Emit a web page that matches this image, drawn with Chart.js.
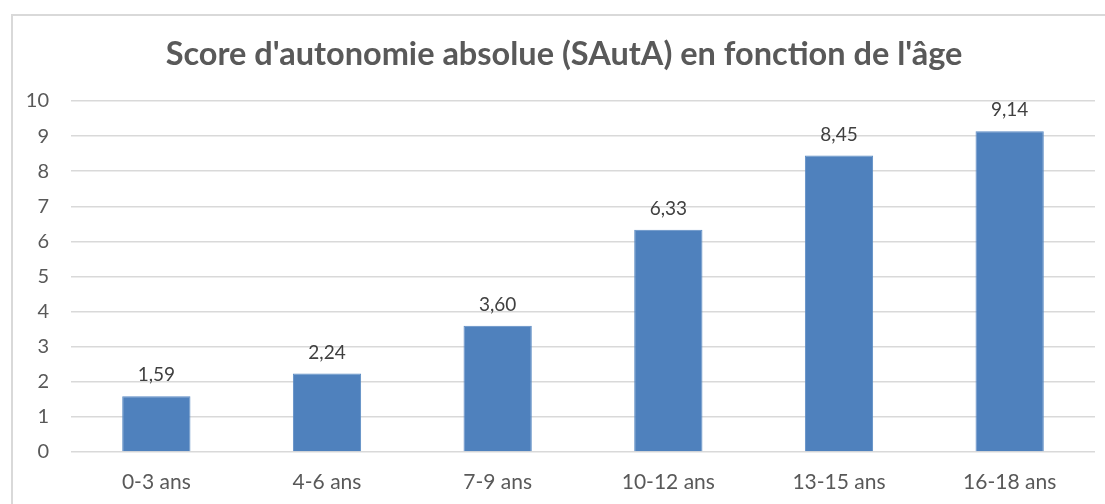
<!DOCTYPE html>
<html>
<head>
<meta charset="utf-8">
<script src="https://cdn.jsdelivr.net/npm/chart.js@4/dist/chart.umd.min.js"></script>
<style>
    body { margin: 0; background: #fff; }
    #wrap { position: relative; width: 1105px; height: 504px; overflow: hidden; }
    #frame { position: absolute; left: 11px; top: 14px; width: 1120px; height: 520px; border: 2px solid #d9d9d9; box-sizing: border-box; }
    #chart { position: absolute; left: 0; top: 0; }
</style>
</head>
<body>
<div id="wrap">
    <div id="frame"></div>
    <canvas id="chart" width="1105" height="504"></canvas>
</div>
<script>
const chartTitle = "Score d'autonomie absolue (SAutA) en fonction de l'âge";
const ageGroups = ['0-3 ans', '4-6 ans', '7-9 ans', '10-12 ans', '13-15 ans', '16-18 ans'];
const sautaScores = [1.59, 2.24, 3.60, 6.33, 8.45, 9.14];
const yTicks = [0, 1, 2, 3, 4, 5, 6, 7, 8, 9, 10];

const FONT = 'Lato, "Open Sans", sans-serif';

// title is drawn by hand, the excel one is not centred on the plot
const titlePlugin = {
    id: 'titlePlugin',
    beforeDraw(chart) {
        const ctx = chart.ctx;
        ctx.save();
        ctx.font = 'bold 32.5px ' + FONT;
        ctx.fillStyle = '#595959';
        ctx.textAlign = 'center';
        ctx.textBaseline = 'middle';
        ctx.fillText(chartTitle, 564, 55);
        ctx.restore();
    }
};

// draws the value above each bar, french decimal comma
const valueLabels = {
    id: 'valueLabels',
    afterDatasetsDraw(chart) {
        const ctx = chart.ctx;
        const meta = chart.getDatasetMeta(0);
        ctx.save();
        ctx.font = '19px ' + FONT;
        ctx.fillStyle = '#404040';
        ctx.textAlign = 'center';
        ctx.textBaseline = 'middle';
        meta.data.forEach((bar, i) => {
            const txt = sautaScores[i].toFixed(2).replace('.', ',');
            ctx.fillText(txt, bar.x, bar.y - 21);
        });
        ctx.restore();
    }
};

const ctx = document.getElementById('chart').getContext('2d');
const chart = new Chart(ctx, {
    type: 'bar',
    data: {
        labels: ageGroups,
        datasets: [{
            data: sautaScores,
            backgroundColor: '#4F81BD',
            borderColor: '#5B8BC4',
            borderWidth: 1,
            barPercentage: 0.4,
            categoryPercentage: 1
        }]
    },
    options: {
        responsive: false,
        animation: false,
        layout: {
            padding: { top: 101, left: 11, right: 10, bottom: 6 }
        },
        plugins: {
            legend: { display: false },
            tooltip: { enabled: false },
            title: { display: false }
        },
        scales: {
            x: {
                afterFit(scale) { scale.height = 46; },
                grid: { display: false, drawTicks: false },
                border: { display: false },
                ticks: {
                    color: '#595959',
                    font: { family: FONT, size: 21 },
                    padding: 18
                }
            },
            y: {
                min: 0,
                max: 10,
                afterFit(scale) { scale.width = 60; },
                afterBuildTicks(scale) { scale.ticks = yTicks.map(v => ({ value: v })); },
                grid: { color: '#d9d9d9', lineWidth: 1.5, drawTicks: false },
                border: { display: false },
                ticks: {
                    color: '#595959',
                    font: { family: FONT, size: 20 },
                    padding: 22
                }
            }
        }
    },
    plugins: [titlePlugin, valueLabels]
});
</script>
</body>
</html>
